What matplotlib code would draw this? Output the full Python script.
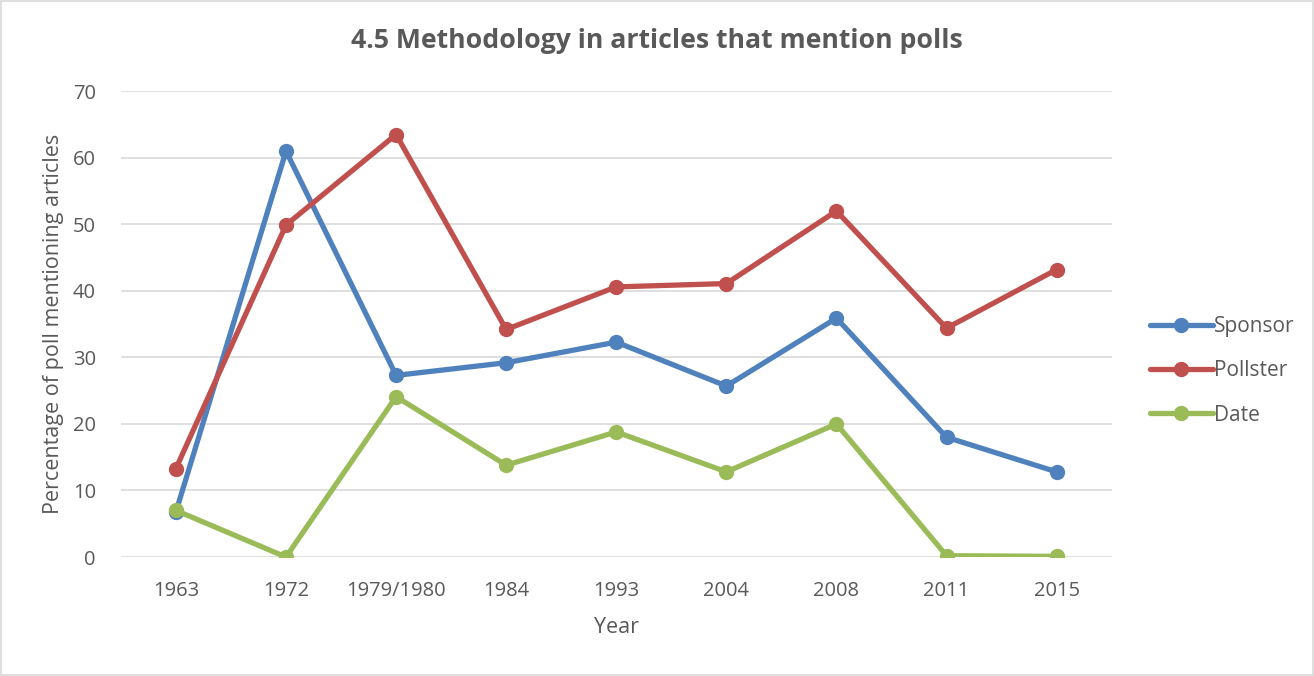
import matplotlib
matplotlib.use("Agg")
import matplotlib.pyplot as plt
from matplotlib.patches import Rectangle

years = ["1963", "1972", "1979/1980", "1984", "1993", "2004", "2008", "2011", "2015"]
sponsor = [6.8, 61.0, 27.3, 29.2, 32.3, 25.7, 35.9, 18.0, 12.8]
pollster = [13.3, 49.9, 63.5, 34.2, 40.6, 41.1, 52.0, 34.4, 43.2]
date = [7.0, 0.0, 24.1, 13.8, 18.8, 12.8, 20.0, 0.2, 0.1]

series = [
    ("Sponsor", sponsor, "#4F81BD"),
    ("Pollster", pollster, "#C0504D"),
    ("Date", date, "#9BBB59"),
]

plt.rcParams["font.family"] = ["Open Sans", "DejaVu Sans"]
text_color = "#595959"

fig = plt.figure(figsize=(13.14, 6.76), dpi=100)
fig.patches.append(Rectangle((0.0008, 0.001), 0.9984, 0.997, transform=fig.transFigure,
                             fill=False, edgecolor="#D9D9D9", linewidth=1.2))
ax = fig.add_axes([0.092, 0.176, 0.754, 0.689])

x = range(len(years))
for name, vals, color in series:
    ax.plot(x, vals, color=color, linewidth=3.8, marker="o", markersize=10,
            solid_capstyle="round", label=name)

ax.set_xlim(-0.5, len(years) - 0.5)
ax.set_ylim(0, 70)
ax.set_yticks(range(0, 71, 10))
ax.set_xticks(list(x))
ax.set_xticklabels(years)
ax.yaxis.grid(True, color="#D9D9D9", linewidth=1.2)
ax.set_axisbelow(True)
for s in ax.spines.values():
    s.set_visible(False)
ax.tick_params(length=0, labelsize=14.5, colors=text_color, pad=17)
ax.tick_params(axis="y", pad=18)

ax.set_xlabel("Year", fontsize=15.5, color=text_color, labelpad=12)
ax.set_ylabel("Percentage of poll mentioning articles", fontsize=15.5, color=text_color, labelpad=6)
fig.suptitle("4.5 Methodology in articles that mention polls", fontsize=19.2,
             fontweight="bold", color=text_color, y=0.958)

ax.legend(loc="center left", bbox_to_anchor=(1.02, 0.40), frameon=False,
          fontsize=15, labelcolor=text_color, handlelength=3.0,
          labelspacing=1.12, handletextpad=0.05)

fig.savefig("out.png", dpi=100)
